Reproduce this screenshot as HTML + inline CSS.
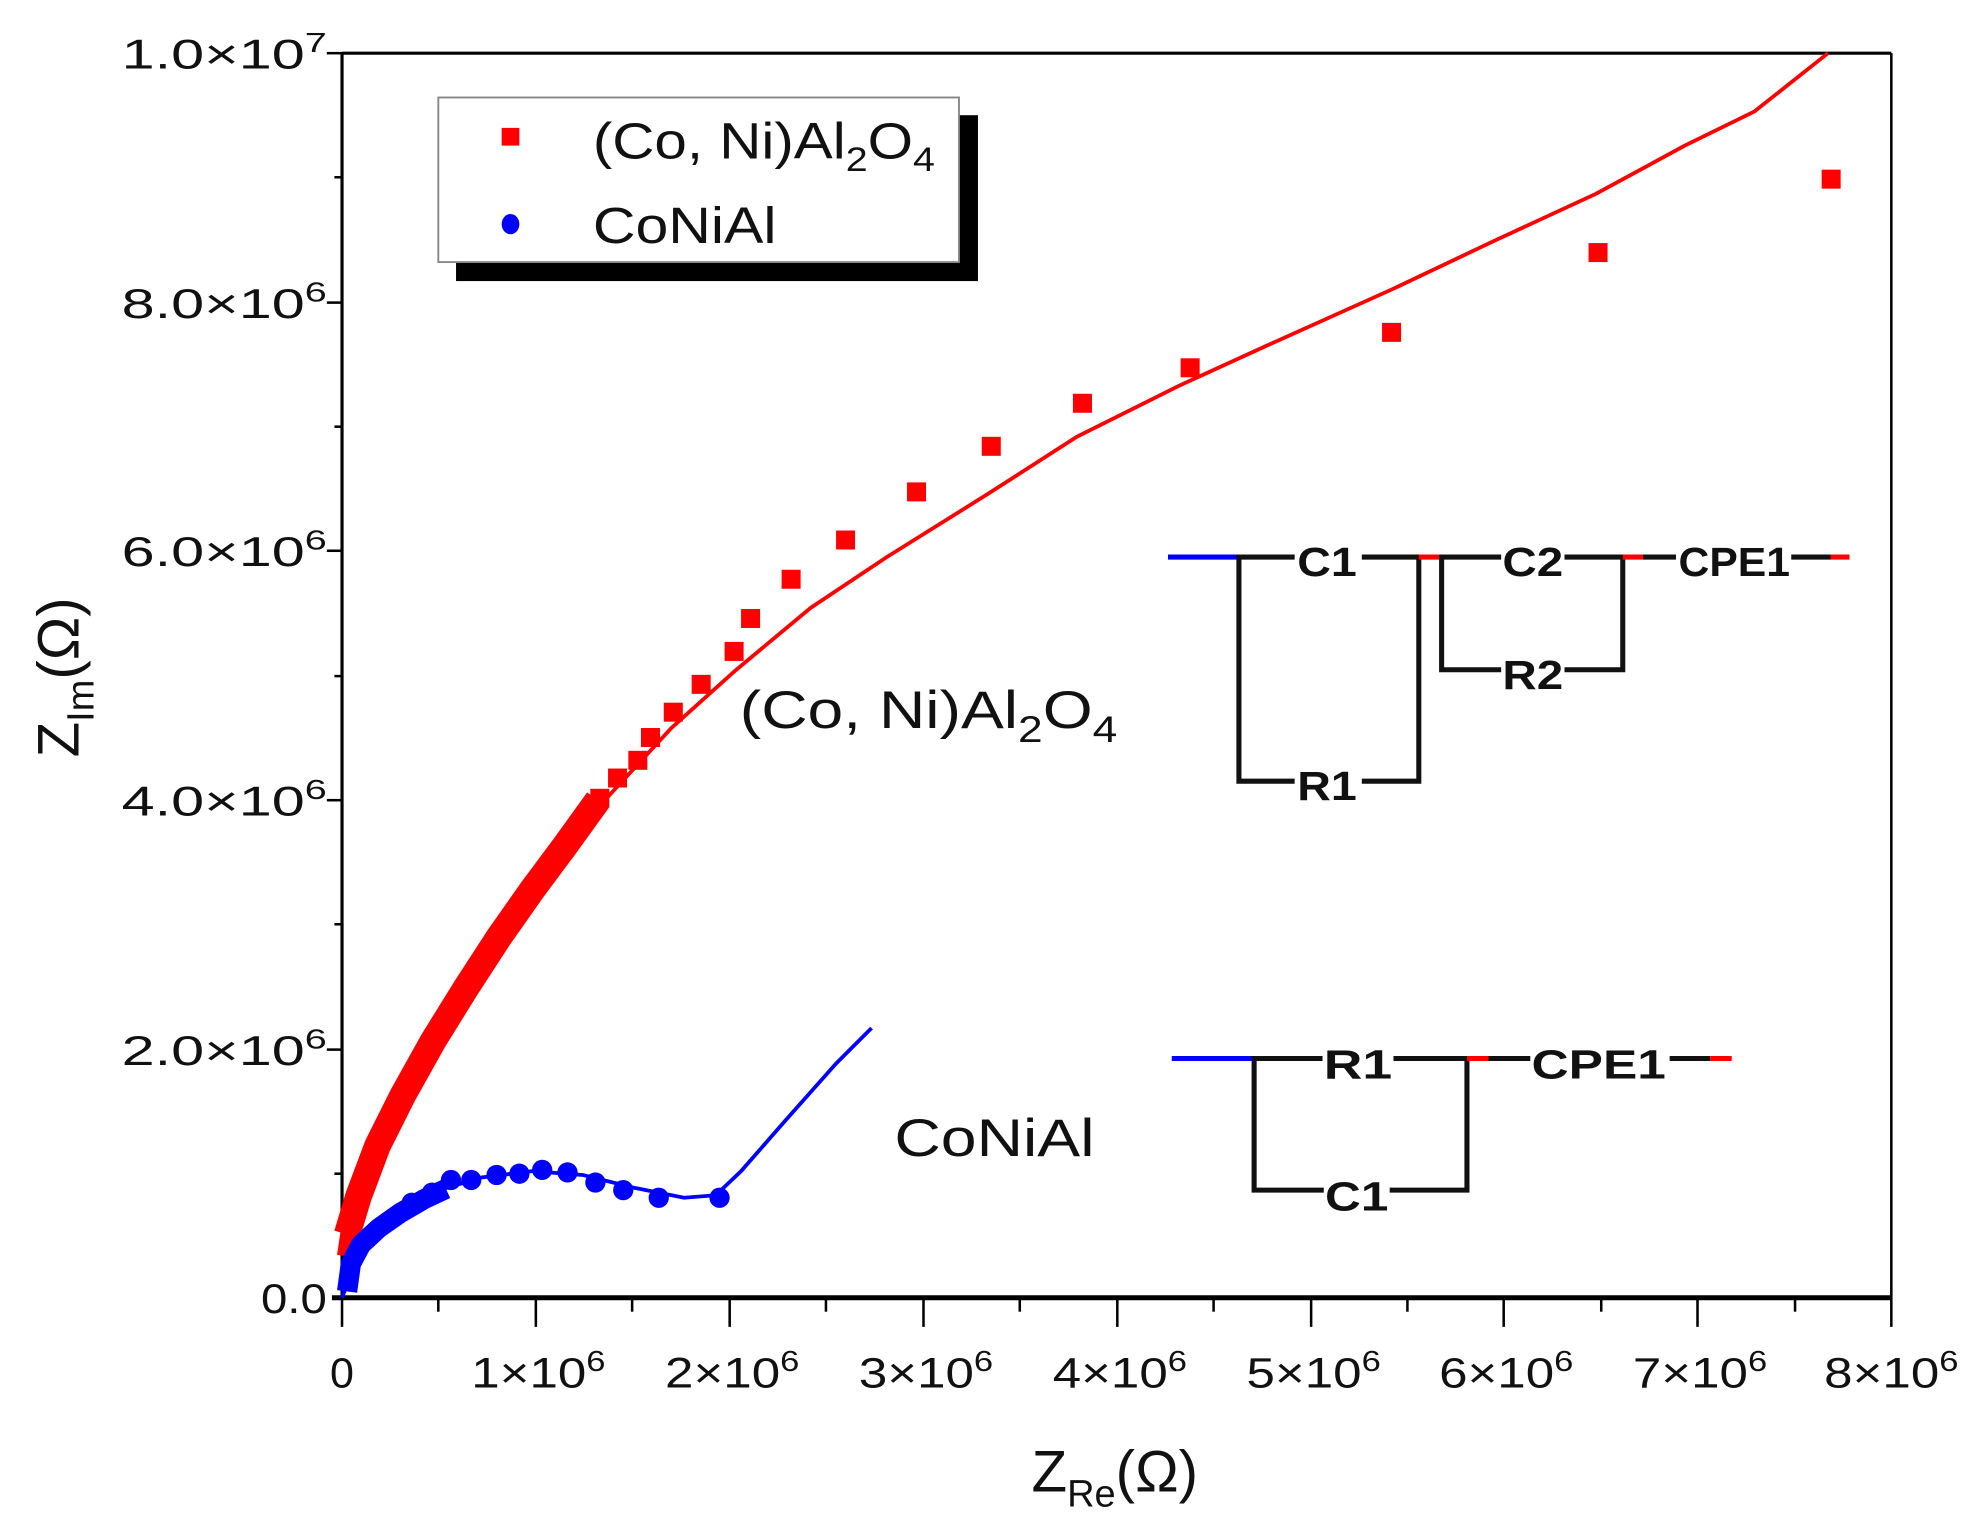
<!DOCTYPE html>
<html><head><meta charset="utf-8"><style>
html,body{margin:0;padding:0;background:#fff;}
svg{display:block;}
text{font-family:"Liberation Sans",sans-serif;}
.c{font-family:"Liberation Sans Narrow","Liberation Sans",sans-serif;font-weight:bold;font-size:32px;fill:#111;}
</style></head><body>
<svg width="1980" height="1532" viewBox="0 0 1563 1210" preserveAspectRatio="none" xmlns="http://www.w3.org/2000/svg">
<rect width="1563" height="1210" fill="#fff"/>
<g stroke="#000" fill="none">
<line x1="270" y1="42" x2="1493" y2="42" stroke-width="2.5"/>
<line x1="1493" y1="42" x2="1493" y2="1025" stroke-width="2"/>
<line x1="270" y1="42" x2="270" y2="1025" stroke-width="2.5"/>
<line x1="262" y1="1025" x2="1493" y2="1025" stroke-width="4"/>
<g stroke-width="2">
<line x1="270" y1="1025" x2="270" y2="1048"/><line x1="423" y1="1025" x2="423" y2="1048"/><line x1="576" y1="1025" x2="576" y2="1048"/><line x1="729" y1="1025" x2="729" y2="1048"/><line x1="882" y1="1025" x2="882" y2="1048"/><line x1="1035" y1="1025" x2="1035" y2="1048"/><line x1="1187" y1="1025" x2="1187" y2="1048"/><line x1="1340" y1="1025" x2="1340" y2="1048"/><line x1="1493" y1="1025" x2="1493" y2="1048"/>
<line x1="346" y1="1025" x2="346" y2="1036"/><line x1="499" y1="1025" x2="499" y2="1036"/><line x1="652" y1="1025" x2="652" y2="1036"/><line x1="805" y1="1025" x2="805" y2="1036"/><line x1="958" y1="1025" x2="958" y2="1036"/><line x1="1111" y1="1025" x2="1111" y2="1036"/><line x1="1264" y1="1025" x2="1264" y2="1036"/><line x1="1417" y1="1025" x2="1417" y2="1036"/>
<line x1="258" y1="42" x2="270" y2="42"/><line x1="258" y1="239" x2="270" y2="239"/><line x1="258" y1="435" x2="270" y2="435"/><line x1="258" y1="632" x2="270" y2="632"/><line x1="258" y1="829" x2="270" y2="829"/>
<line x1="264" y1="140" x2="270" y2="140"/><line x1="264" y1="337" x2="270" y2="337"/><line x1="264" y1="534" x2="270" y2="534"/><line x1="264" y1="730" x2="270" y2="730"/><line x1="264" y1="927" x2="270" y2="927"/>
</g></g>
<g font-size="33" fill="#111" text-anchor="end">
<text x="258" y="54" textLength="162" lengthAdjust="spacingAndGlyphs">1.0×10<tspan dy="-13" font-size="22">7</tspan></text>
<text x="258" y="251" textLength="162" lengthAdjust="spacingAndGlyphs">8.0×10<tspan dy="-13" font-size="22">6</tspan></text>
<text x="258" y="447" textLength="162" lengthAdjust="spacingAndGlyphs">6.0×10<tspan dy="-13" font-size="22">6</tspan></text>
<text x="258" y="644" textLength="162" lengthAdjust="spacingAndGlyphs">4.0×10<tspan dy="-13" font-size="22">6</tspan></text>
<text x="258" y="841" textLength="162" lengthAdjust="spacingAndGlyphs">2.0×10<tspan dy="-13" font-size="22">6</tspan></text>
<text x="258" y="1037" textLength="52" lengthAdjust="spacingAndGlyphs">0.0</text>
</g>
<g font-size="34" fill="#111" text-anchor="middle">
<text x="270" y="1096" font-size="34">0</text>
<text x="425" y="1096" textLength="106" lengthAdjust="spacingAndGlyphs">1×10<tspan dy="-13" font-size="23">6</tspan></text>
<text x="578" y="1096" textLength="106" lengthAdjust="spacingAndGlyphs">2×10<tspan dy="-13" font-size="23">6</tspan></text>
<text x="731" y="1096" textLength="106" lengthAdjust="spacingAndGlyphs">3×10<tspan dy="-13" font-size="23">6</tspan></text>
<text x="884" y="1096" textLength="106" lengthAdjust="spacingAndGlyphs">4×10<tspan dy="-13" font-size="23">6</tspan></text>
<text x="1037" y="1096" textLength="106" lengthAdjust="spacingAndGlyphs">5×10<tspan dy="-13" font-size="23">6</tspan></text>
<text x="1189" y="1096" textLength="106" lengthAdjust="spacingAndGlyphs">6×10<tspan dy="-13" font-size="23">6</tspan></text>
<text x="1342" y="1096" textLength="106" lengthAdjust="spacingAndGlyphs">7×10<tspan dy="-13" font-size="23">6</tspan></text>
<text x="1493" y="1096" textLength="106" lengthAdjust="spacingAndGlyphs">8×10<tspan dy="-13" font-size="23">6</tspan></text>
</g>
<text x="880" y="1178" font-size="46" fill="#111" text-anchor="middle">Z<tspan dy="12" font-size="30">Re</tspan><tspan dy="-12">(Ω)</tspan></text>
<text transform="translate(62,535) rotate(-90)" font-size="46" fill="#111" text-anchor="middle">Z<tspan dy="12" font-size="30">Im</tspan><tspan dy="-12">(Ω)</tspan></text>
<rect x="360" y="91" width="412" height="131" fill="#000"/>
<rect x="346" y="77" width="411" height="130" fill="#fff" stroke="#888" stroke-width="1.5"/>
<rect x="396" y="101" width="14" height="14" fill="#f00"/>
<ellipse cx="403" cy="177" rx="7" ry="8" fill="#00f"/>
<text x="468" y="125" font-size="40" fill="#111" textLength="270" lengthAdjust="spacingAndGlyphs">(Co, Ni)Al<tspan dy="10" font-size="27">2</tspan><tspan dy="-10">O</tspan><tspan dy="10" font-size="27">4</tspan></text>
<text x="468" y="192" font-size="40" fill="#111" textLength="145" lengthAdjust="spacingAndGlyphs">CoNiAl</text>
<text x="584" y="575" font-size="42" fill="#111" textLength="298" lengthAdjust="spacingAndGlyphs">(Co, Ni)Al<tspan dy="11" font-size="29">2</tspan><tspan dy="-11">O</tspan><tspan dy="11" font-size="29">4</tspan></text>
<text x="706" y="913" font-size="42" fill="#111" textLength="158" lengthAdjust="spacingAndGlyphs">CoNiAl</text>
<polyline fill="none" stroke="#f00" stroke-width="3" points="270,990 290,930 320,860 360,790 410,720 470,640 530,575 580,530 640,480 700,440 780,390 850,345 930,305 1000,273 1100,228 1180,190 1260,153 1330,115 1385,88 1443,42"/>
<polyline fill="none" stroke="#f00" stroke-width="21" stroke-linejoin="round" points="274,975 283,945 298,905 318,865 342,822 368,780 394,740 420,703 446,668 472,632"/>
<polyline fill="none" stroke="#f00" stroke-width="12" points="272,992 276,965"/>
<g fill="#f00">
<rect x="1438" y="134" width="15" height="15"/><rect x="1254" y="192" width="15" height="15"/><rect x="1091" y="255" width="15" height="15"/><rect x="932" y="283" width="15" height="15"/><rect x="847" y="311" width="15" height="15"/><rect x="775" y="345" width="15" height="15"/><rect x="716" y="381" width="15" height="15"/><rect x="660" y="419" width="15" height="15"/><rect x="617" y="450" width="15" height="15"/><rect x="585" y="481" width="15" height="15"/><rect x="572" y="507" width="15" height="15"/><rect x="546" y="533" width="15" height="15"/><rect x="524" y="555" width="15" height="15"/><rect x="506" y="575" width="15" height="15"/><rect x="496" y="593" width="15" height="15"/><rect x="480" y="607" width="15" height="15"/><rect x="466" y="623" width="15" height="15"/>
</g>
<polyline fill="none" stroke="#00f" stroke-width="3" points="270,1025 285,985 305,962 340,942 380,930 420,925 460,928 500,938 540,946 565,944 585,925 620,885 660,840 688,812"/>
<polyline fill="none" stroke="#00f" stroke-width="16" stroke-linejoin="round" points="274,1020 277,998 285,983 299,970 316,958 335,947 352,939"/>
<g fill="#00f">
<circle cx="356" cy="932" r="8"/><circle cx="372" cy="932" r="8"/><circle cx="392" cy="928" r="8"/><circle cx="410" cy="927" r="8"/><circle cx="428" cy="924" r="8"/><circle cx="448" cy="926" r="8"/><circle cx="470" cy="934" r="8"/><circle cx="492" cy="940" r="8"/><circle cx="520" cy="946" r="8"/><circle cx="568" cy="946" r="8"/><circle cx="341" cy="942" r="8"/><circle cx="325" cy="950" r="8"/>
</g>
<g stroke-width="4" fill="none">
<line x1="922" y1="440" x2="978" y2="440" stroke="#00f"/>
<polyline stroke="#111" points="1022,440 978,440 978,617 1022,617"/>
<polyline stroke="#111" points="1075,440 1120,440 1120,617 1075,617"/>
<line x1="1120" y1="440" x2="1136" y2="440" stroke="#f00"/>
<polyline stroke="#111" points="1185,440 1138,440 1138,529 1185,529"/>
<polyline stroke="#111" points="1235,440 1281,440 1281,529 1235,529"/>
<line x1="1281" y1="440" x2="1297" y2="440" stroke="#f00"/>
<line x1="1297" y1="440" x2="1323" y2="440" stroke="#111"/>
<line x1="1414" y1="440" x2="1445" y2="440" stroke="#111"/>
<line x1="1445" y1="440" x2="1460" y2="440" stroke="#f00"/>
</g>
<text class="c" x="1024" y="455" textLength="47" lengthAdjust="spacingAndGlyphs">C1</text>
<text class="c" x="1186" y="455" textLength="48" lengthAdjust="spacingAndGlyphs">C2</text>
<text class="c" x="1325" y="455" textLength="88" lengthAdjust="spacingAndGlyphs">CPE1</text>
<text class="c" x="1186" y="544" textLength="48" lengthAdjust="spacingAndGlyphs">R2</text>
<text class="c" x="1024" y="632" textLength="47" lengthAdjust="spacingAndGlyphs">R1</text>
<g stroke-width="4" fill="none">
<line x1="925" y1="836" x2="990" y2="836" stroke="#00f"/>
<polyline stroke="#111" points="1044,836 990,836 990,940 1045,940"/>
<polyline stroke="#111" points="1100,836 1158,836 1158,940 1097,940"/>
<line x1="1158" y1="836" x2="1175" y2="836" stroke="#f00"/>
<line x1="1175" y1="836" x2="1208" y2="836" stroke="#111"/>
<line x1="1318" y1="836" x2="1350" y2="836" stroke="#111"/>
<line x1="1350" y1="836" x2="1367" y2="836" stroke="#f00"/>
</g>
<text class="c" x="1045" y="852" textLength="54" lengthAdjust="spacingAndGlyphs">R1</text>
<text class="c" x="1209" y="852" textLength="106" lengthAdjust="spacingAndGlyphs">CPE1</text>
<text class="c" x="1046" y="956" textLength="50" lengthAdjust="spacingAndGlyphs">C1</text>
</svg>
</body></html>
